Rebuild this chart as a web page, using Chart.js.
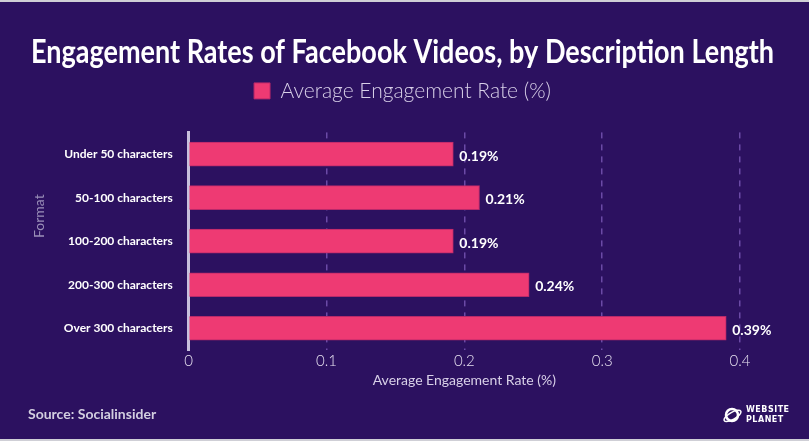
<!DOCTYPE html>
<html>
<head>
<meta charset="utf-8">
<script src="https://cdn.jsdelivr.net/npm/chart.js@4/dist/chart.umd.min.js"></script>
<style>
  html, body { margin: 0; padding: 0; background: #2c1160; }
  #wrap { position: relative; width: 809px; height: 441px; box-sizing: border-box;
          border-top: 2px solid #cfcfd6; border-bottom: 2px solid #cfcfd6; overflow: hidden; }
  #chart { position: absolute; left: 0; top: 0; }
  #source { position: absolute; left: 28px; top: 403px; font: bold 14px Lato, sans-serif; color: #d3cfe0; }
  #logo { position: absolute; left: 722px; top: 402px; color: #fff; font: bold 8px "DejaVu Sans", sans-serif;
          line-height: 10px; letter-spacing: 0.5px; }
  #logo .icon { position: absolute; left: 0; top: 1px; width: 20px; height: 20px; }
  #logo .txt { position: absolute; left: 24px; top: 1px; white-space: nowrap; }
</style>
</head>
<body>
<div id="wrap">
  <canvas id="chart" width="809" height="437"></canvas>
  <div id="source">Source: Socialinsider</div>
  <div id="logo">
    <svg class="icon" viewBox="0 0 20 20"><circle cx="10" cy="10" r="6" fill="none" stroke="#fff" stroke-width="2.5"/><ellipse cx="10" cy="11" rx="9.5" ry="3.5" fill="none" stroke="#fff" stroke-width="1.5" transform="rotate(-30 10 10)"/></svg>
    <div class="txt">WEBSITE<br>PLANET</div>
  </div>
</div>
<script>
const categories = ["Under 50 characters", "50-100 characters", "100-200 characters", "200-300 characters", "Over 300 characters"];
const engagementRates = [0.192, 0.211, 0.192, 0.247, 0.39];
const valueLabels = ["0.19%", "0.21%", "0.19%", "0.24%", "0.39%"];
const xTicks = [0, 0.1, 0.2, 0.3, 0.4];

const barLabelPlugin = {
    id: 'barLabels',
    afterDatasetsDraw(chart) {
        const ctx = chart.ctx;
        const meta = chart.getDatasetMeta(0);
        ctx.save();
        ctx.fillStyle = '#ffffff';
        ctx.font = 'bold 14px Lato, sans-serif';
        ctx.textBaseline = 'middle';
        meta.data.forEach((bar, i) => {
            ctx.fillText(valueLabels[i], bar.x + 6, bar.y + 2);
        });
        ctx.restore();
    }
};

// extra room under the legend
const legendGap = {
    id: 'legendGap',
    beforeInit(chart) {
        const fit = chart.legend.fit;
        chart.legend.fit = function () {
            fit.bind(chart.legend)();
            this.height += 21;
        };
    }
};

new Chart(document.getElementById("chart").getContext("2d"), {
    type: 'bar',
    data: {
        labels: categories,
        datasets: [{
            label: 'Average Engagement Rate (%)',
            data: engagementRates,
            backgroundColor: '#ee3a73',
            borderColor: '#b8296a',
            borderWidth: 1,
            borderSkipped: 'left',
            barThickness: 24
        }]
    },
    options: {
        indexAxis: 'y',
        responsive: false,
        animation: false,
        layout: { padding: { top: 31, right: 35, bottom: 48, left: 31 } },
        plugins: {
            title: {
                display: true,
                text: 'Engagement Rates of Facebook Videos, by Description Length',
                color: '#ffffff',
                font: { family: 'Lato', size: 32, weight: 'bold' },
                padding: { top: 0, bottom: -1 }
            },
            legend: {
                display: true,
                labels: {
                    color: '#d8d0e8',
                    font: { family: 'Lato', size: 21, weight: 300 },
                    boxWidth: 16,
                    boxHeight: 16,
                    padding: 10
                }
            },
            tooltip: { enabled: false }
        },
        scales: {
            x: {
                min: 0,
                max: 0.4,
                afterBuildTicks: (axis) => { axis.ticks = xTicks.map(v => ({ value: v })); },
                grid: {
                    color: (c) => c.tick && c.tick.value === 0 ? 'rgba(0,0,0,0)' : '#6b4aa6',
                    lineWidth: 1.5,
                    drawTicks: false
                },
                border: { display: false, dash: [6, 6] },
                ticks: {
                    color: '#e6e0f0',
                    font: { family: 'Lato', size: 15, weight: 300, lineHeight: 1 },
                    padding: 4,
                    callback: (v) => String(v)
                },
                title: {
                    display: true,
                    text: 'Average Engagement Rate (%)',
                    color: '#d8d0e8',
                    font: { family: 'Lato', size: 14, lineHeight: 1 },
                    padding: { top: 0 }
                }
            },
            y: {
                grid: { display: false, drawTicks: false },
                border: { display: true, color: '#c8c0dc', width: 3 },
                ticks: {
                    color: '#ffffff',
                    font: { family: 'Lato', size: 12, weight: 'bold' },
                    padding: 16
                },
                title: {
                    display: true,
                    text: '\u00a0'.repeat(14) + 'Format',
                    color: '#9a8fb8',
                    font: { family: 'Lato', size: 14 },
                    padding: 0
                }
            },
            // empty right-hand spacer so the plot ends where the reference does
            spacer: {
                type: 'linear',
                position: 'right',
                display: true,
                grid: { display: false, drawTicks: false },
                border: { display: false },
                ticks: { display: false },
                afterFit: (axis) => { axis.width = 34; }
            }
        }
    },
    plugins: [barLabelPlugin, legendGap]
});
</script>
</body>
</html>
